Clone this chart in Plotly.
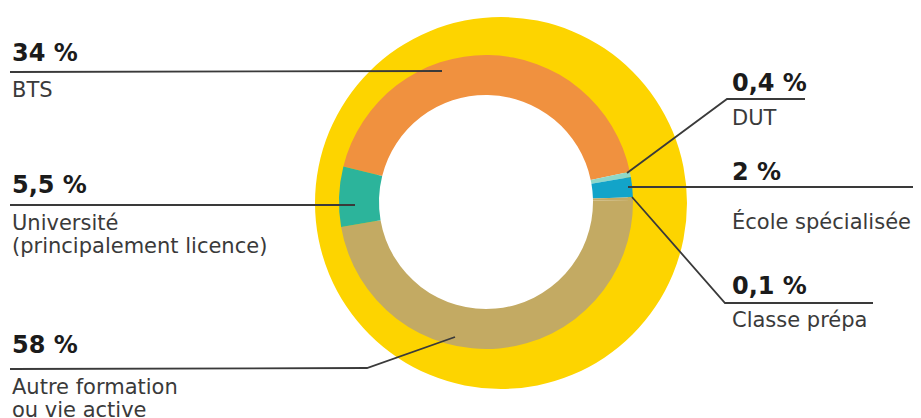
"""\
Donut chart: what students do after the bac (inner ring) on a yellow outer ring
"""
from __future__ import annotations

import plotly.graph_objects as go

# the page puts an 8px body margin around the plot div
PAGE_OFFSET = 8
W, H = 921 - PAGE_OFFSET, 418 - PAGE_OFFSET

# Inner ring slices, clockwise from the left edge of BTS
categories = [
    "BTS",
    "DUT",
    "École spécialisée",
    "Classe prépa",
    "Autre formation<br>ou vie active",
    "Université<br>(principalement licence)",
]
# percentages printed next to each slice
share_labels = ["34 %", "0,4 %", "2 %", "0,1 %", "58 %", "5,5 %"]
# arc sizes as drawn in the ring (the picture is not to scale)
drawn_share = [42.8, 0.6, 2.2, 0.3, 47.5, 6.6]

SLICE_COLORS = ["#F0913F", "#8ED8C9", "#12A4C9", "#C3AA63", "#C3AA63", "#2CB49B"]
YELLOW = "#FDD400"
LINE = "#3a3a3a"
FONT = "DejaVu Sans"
LINE_GAP = 23

# label block (px in the final picture): text x, centre of the % label,
# centre of the first text line, polyline from the rule to the ring
LABEL_LAYOUT = {
    "BTS": {"x": 10, "pct": 53, "txt": 90, "path": [(10, 72), (442, 71)]},
    "DUT": {"x": 730, "pct": 83, "txt": 118,
            "path": [(805, 99), (727, 99), (627, 173)]},
    "École spécialisée": {"x": 730, "pct": 172, "txt": 221,
                          "path": [(921, 187), (628, 187)]},
    "Classe prépa": {"x": 730, "pct": 286, "txt": 320,
                     "path": [(873, 303), (725, 303), (632, 197)]},
    "Autre formation<br>ou vie active": {
        "x": 10, "pct": 345, "txt": 387,
        "path": [(10, 369), (367, 368), (455, 337)],
    },
    "Université<br>(principalement licence)": {
        "x": 10, "pct": 185, "txt": 223, "path": [(10, 205), (355, 205)],
    },
}


def _px(x: float, y: float) -> tuple[float, float]:
    """Pixel position in the final picture -> paper coordinates"""
    return (x - PAGE_OFFSET) / W, 1 - (y - PAGE_OFFSET) / H


def _domain(cx: float, cy: float, r: float) -> dict:
    x0, y0 = _px(cx - r, cy + r)
    x1, y1 = _px(cx + r, cy - r)
    return {"x": [x0, x1], "y": [y0, y1]}


def _text(text: str, x: float, y: float, size: int, color: str) -> dict:
    px, py = _px(x, y)
    return {
        "text": text,
        "x": px,
        "y": py,
        "xref": "paper",
        "yref": "paper",
        "xanchor": "left",
        "yanchor": "middle",
        "showarrow": False,
        "font": {"family": FONT, "size": size, "color": color},
    }


fig = go.Figure()
# outer yellow ring
fig.add_trace(
    go.Pie(
        values=[1],
        labels=["total"],
        marker={"colors": [YELLOW], "line": {"width": 0}},
        hole=127 / 186,
        domain=_domain(501, 203, 186),
        textinfo="none",
        sort=False,
        showlegend=False,
        hoverinfo="skip",
    )
)
# inner ring
fig.add_trace(
    go.Pie(
        values=drawn_share,
        labels=categories,
        customdata=share_labels,
        marker={"colors": SLICE_COLORS, "line": {"width": 0}},
        hole=107 / 147,
        domain=_domain(486, 202, 147),
        direction="clockwise",
        rotation=-76,
        sort=False,
        textinfo="none",
        showlegend=False,
        hovertemplate="%{label}: %{customdata}<extra></extra>",
    )
)

shapes = []
annotations = []
for cat, pct in zip(categories, share_labels):
    spec = LABEL_LAYOUT[cat]
    pts = [_px(*p) for p in spec["path"]]
    shapes.append(
        {
            "type": "path",
            "path": "M " + " L ".join(f"{x},{y}" for x, y in pts),
            "xref": "paper",
            "yref": "paper",
            "line": {"color": LINE, "width": 1.8},
            "layer": "above",
        }
    )
    annotations.append(_text(f"<b>{pct}</b>", spec["x"], spec["pct"], 24, "#1b1b1b"))
    for i, line in enumerate(cat.split("<br>")):
        annotations.append(
            _text(line, spec["x"], spec["txt"] + i * LINE_GAP, 21, "#3a3a3a")
        )

fig.update_layout(
    width=W,
    height=H,
    margin={"l": 0, "r": 0, "t": 0, "b": 0},
    paper_bgcolor="white",
    plot_bgcolor="white",
    shapes=shapes,
    annotations=annotations,
)
fig.write_html("out.html")
